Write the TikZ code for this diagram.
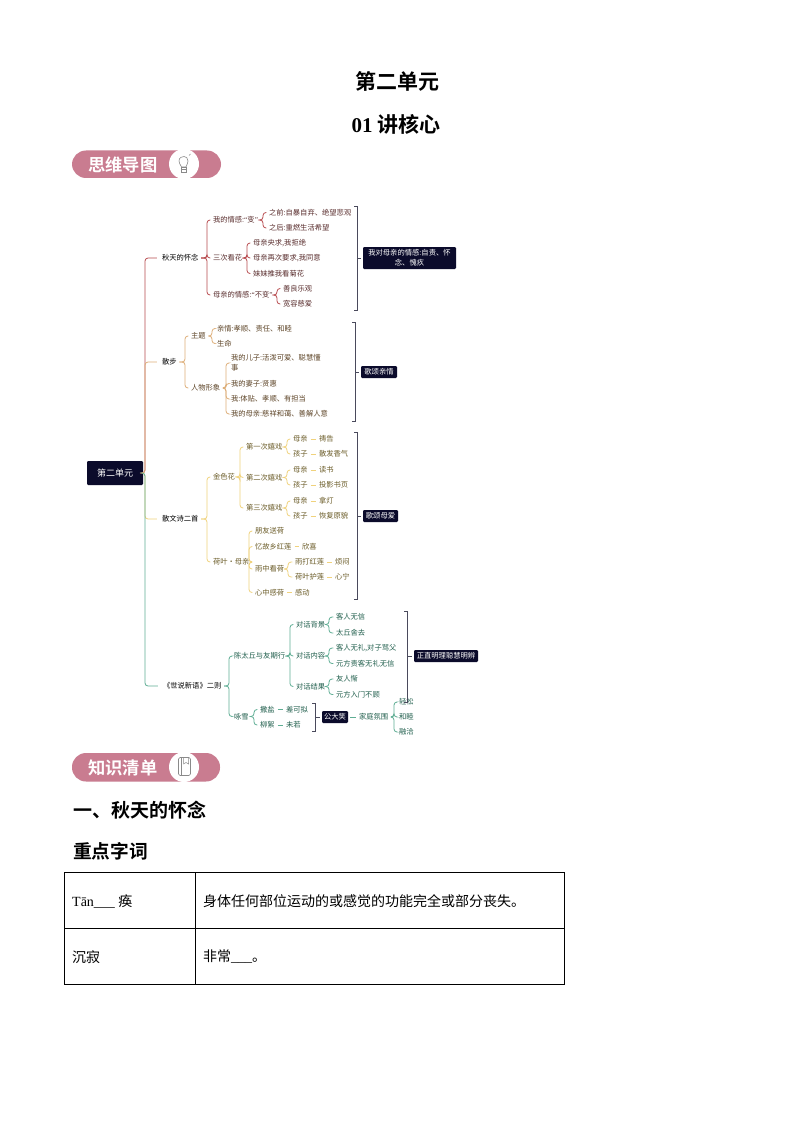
\documentclass[tikz,border=0pt]{standalone}
\usepackage{fontspec}
\setmainfont{Liberation Serif}
\newfontfamily\cjk{Noto Sans CJK SC}
\newfontfamily\cjkb{Noto Sans CJK SC Bold}
\usetikzlibrary{calc}
\definecolor{navy}{HTML}{0B0B2B}
\definecolor{pinkb}{HTML}{C97C90}
\definecolor{lred}{HTML}{B84A4E}
\definecolor{tred}{HTML}{5A2E2E}
\definecolor{lor}{HTML}{DDAE78}
\definecolor{tor}{HTML}{5E4528}
\definecolor{lyel}{HTML}{F0D27C}
\definecolor{tyel}{HTML}{6B5C28}
\definecolor{lgrn}{HTML}{5FAE94}
\definecolor{tgrn}{HTML}{215F4D}
\definecolor{brk}{HTML}{4A4A5C}
\definecolor{icon}{HTML}{8A8A8A}
\newcommand{\qq}[1]{{\rmfamily “}#1{\rmfamily ”}}
\tikzset{
  lab/.style={anchor=west,inner sep=1pt,font=\cjk\fontsize{7.3}{10}\selectfont,align=left},
  conn/.style={line width=.8pt,rounded corners=3pt,shorten >=1.5pt,shorten <=1.5pt},
  spine/.style={line width=.8pt,rounded corners=3pt,shorten >=4pt},
  dashc/.style={line width=.8pt,shorten >=2pt,shorten <=2pt},
  brack/.style={line width=.8pt,color=brk},
  tag/.style={fill=navy,rounded corners=1.2pt,text=white,inner sep=0pt,font=\cjk\fontsize{7.3}{10}\selectfont,align=center},
  pill/.style={fill=pinkb,rounded corners=14pt},
  pilltext/.style={text=white,font=\cjkb\fontsize{17.3}{20}\selectfont,anchor=west,inner sep=0pt},
  head/.style={font=\cjkb\fontsize{19}{22}\selectfont,anchor=west,inner sep=0pt},
  title/.style={font=\cjkb\fontsize{21}{24}\selectfont,inner sep=0pt},
  cell/.style={font=\cjk\fontsize{14}{16}\selectfont,anchor=west,inner sep=0pt},
  rule/.style={line width=.7pt},
}
\newcommand{\lb}[4]{\node[lab] (#1) at ({#2-0.7},#3) {#4};}
\newcommand{\fan}[3]{\coordinate (fx) at (#2,0);
  \foreach \c in {#3} {\draw[conn] (#1.east) -- (fx |- #1.east) |- (\c.west);}}
\newcommand{\rbr}[4]{\coordinate (#1t) at (#2,#3); \coordinate (#1b) at (#2,#4);
  \draw[brack] ($(#1t)+(-3,0)$) -- (#1t) -- (#1b) -- ($(#1b)+(-3,0)$);}
\begin{document}
\begin{tikzpicture}[x=1pt,y=-1pt]
\useasboundingbox (0,0) rectangle (794,1123);
\fill[white] (0,0) rectangle (794,1123);
\node[title] (t1) at (397,81) {第二单元};
\node[title] (t2) at (396,124) {{\rmfamily\bfseries 01} 讲核心};
\fill[pill] (72,150.5) rectangle (221,178);
\fill[white] (184,164) circle[radius=15pt];
\node[pilltext] (b1) at (88,164.5) {思维导图};
\draw[icon,line width=.6pt] (181.5,167) .. controls (180,164) and (179,163) .. (179,161) .. controls (179,157.5) and (182,156.5) .. (184,156.5) .. controls (186,156.5) and (188,158) .. (188,161) .. controls (188,163) and (187,164) .. (186,167) -- cycle;
\draw[icon,line width=.6pt] (181.5,167) rectangle (186,172);
\draw[icon,line width=.5pt] (181.5,169.5) -- (186,169.5);
\draw[icon,line width=.5pt] (189,155.5) -- (190.5,154);
\node[tag,font=\cjk\fontsize{9}{11}\selectfont,minimum width=56pt,minimum height=24pt] (root) at (115,473) {第二单元};
\begin{scope}[every node/.append style={text=black}]
\lb{a}{161.5}{258}{秋天的怀念}
\lb{b}{161.5}{362}{散步}
\lb{c}{161.5}{519}{散文诗二首}
\lb{d}{162.5}{686}{《世说新语》二则}
\end{scope}
\coordinate (sx) at (145,0);
\draw[spine,lyel] (root.east) -- (sx |- root.east) |- (c.west);
\draw[spine,lred] (root.east) -- (sx |- root.east) |- (a.west);
\draw[spine,lor] (root.east) -- (sx |- root.east) |- (b.west);
\draw[spine,lgrn] (root.east) -- (sx |- root.east) |- (d.west);
\begin{scope}[every node/.append style={text=tred}]
\lb{a1}{212.5}{220}{我的情感:\qq{变}}
\lb{a2}{212.5}{258}{三次看花}
\lb{a3}{212.5}{295}{母亲的情感:\qq{不变}}
\lb{a11}{268.5}{212.5}{之前:自暴自弃、绝望悲观}
\lb{a12}{268.5}{228}{之后:重燃生活希望}
\lb{a21}{252.5}{243}{母亲央求,我拒绝}
\lb{a22}{252.5}{258}{母亲再次要求,我同意}
\lb{a23}{252.5}{273.5}{妹妹推我看菊花}
\lb{a31}{282.5}{288.5}{善良乐观}
\lb{a32}{282.5}{304}{宽容慈爱}
\end{scope}
\begin{scope}[color=lred]
\fan{a}{207}{a1,a2,a3}
\fan{a1}{263}{a11,a12}
\fan{a2}{247}{a21,a22,a23}
\fan{a3}{277}{a31,a32}
\end{scope}
\rbr{ra}{357}{206}{310}
\node[tag,minimum width=93pt,minimum height=22pt] (ta) at (409.5,258) {我对母亲的情感:自责、怀\\念、愧疚};
\draw[brack] (rat |- ta.west) -- ($(ta.west)+(-2,0)$);
\begin{scope}[every node/.append style={text=tor}]
\lb{b1}{190.5}{336}{主题}
\lb{b2}{190.5}{388}{人物形象}
\lb{b11}{216.5}{328.5}{亲情:孝顺、责任、和睦}
\lb{b12}{216.5}{343.5}{生命}
\lb{b21}{230.5}{363}{我的儿子:活泼可爱、聪慧懂\\事}
\lb{b22}{230.5}{383.5}{我的妻子:贤惠}
\lb{b23}{230.5}{399}{我:体贴、孝顺、有担当}
\lb{b24}{230.5}{414}{我的母亲:慈祥和蔼、善解人意}
\end{scope}
\begin{scope}[color=lor]
\fan{b}{185}{b1,b2}
\fan{b1}{212}{b11,b12}
\fan{b2}{226}{b21,b22,b23,b24}
\end{scope}
\rbr{rb}{355}{322}{421}
\node[tag,minimum width=36pt,minimum height=12pt] (tb) at (379,372) {歌颂亲情};
\draw[brack] (rbt |- tb.west) -- ($(tb.west)+(-2,0)$);
\begin{scope}[every node/.append style={text=tyel}]
\lb{c1}{212.5}{477}{金色花}
\lb{c2}{212.5}{562}{荷叶·母亲}
\lb{c11}{245.5}{447}{第一次嬉戏}
\lb{c12}{245.5}{477.5}{第二次嬉戏}
\lb{c13}{245.5}{508}{第三次嬉戏}
\lb{m1}{292.5}{439}{母亲}
\lb{m2}{292.5}{454}{孩子}
\lb{m3}{292.5}{470}{母亲}
\lb{m4}{292.5}{485}{孩子}
\lb{m5}{292.5}{501}{母亲}
\lb{m6}{292.5}{516}{孩子}
\lb{n1}{318.5}{439}{祷告}
\lb{n2}{318.5}{454}{散发香气}
\lb{n3}{318.5}{470}{读书}
\lb{n4}{318.5}{485}{投影书页}
\lb{n5}{318.5}{501}{拿灯}
\lb{n6}{318.5}{516}{恢复原貌}
\lb{c21}{254.5}{531}{朋友送荷}
\lb{c22}{254.5}{546.5}{忆故乡红莲}
\lb{c23}{254.5}{569}{雨中看荷}
\lb{c24}{254.5}{592.5}{心中感荷}
\lb{c22x}{301.5}{546.5}{欣喜}
\lb{c24x}{294.5}{592.5}{感动}
\lb{c231}{294.5}{562}{雨打红莲}
\lb{c232}{294.5}{577}{荷叶护莲}
\lb{c231x}{334.5}{562}{烦闷}
\lb{c232x}{334.5}{577}{心宁}
\end{scope}
\begin{scope}[color=lyel]
\fan{c}{207}{c1,c2}
\fan{c1}{240}{c11,c12,c13}
\fan{c11}{287}{m1,m2}
\fan{c12}{287}{m3,m4}
\fan{c13}{287}{m5,m6}
\fan{c2}{249}{c21,c22,c23,c24}
\fan{c23}{288}{c231,c232}
\draw[dashc] (m1) -- (n1);
\draw[dashc] (m2) -- (n2);
\draw[dashc] (m3) -- (n3);
\draw[dashc] (m4) -- (n4);
\draw[dashc] (m5) -- (n5);
\draw[dashc] (m6) -- (n6);
\draw[dashc] (c22) -- (c22x);
\draw[dashc] (c24) -- (c24x);
\draw[dashc] (c231) -- (c231x);
\draw[dashc] (c232) -- (c232x);
\end{scope}
\rbr{rc}{357}{432}{599}
\node[tag,minimum width=35pt,minimum height=12pt] (tc) at (380.5,516) {歌颂母爱};
\draw[brack] (rct |- tc.west) -- ($(tc.west)+(-2,0)$);
\begin{scope}[every node/.append style={text=tgrn}]
\lb{d1}{233.5}{656}{陈太丘与友期行}
\lb{d2}{233.5}{716.5}{咏雪}
\lb{d11}{295.5}{624.5}{对话背景}
\lb{d12}{295.5}{656}{对话内容}
\lb{d13}{295.5}{686.5}{对话结果}
\lb{e1}{335.5}{617}{客人无信}
\lb{e2}{335.5}{633}{太丘舍去}
\lb{e3}{335.5}{648}{客人无礼,对子骂父}
\lb{e4}{335.5}{663.5}{元方责客无礼无信}
\lb{e5}{335.5}{679}{友人惭}
\lb{e6}{335.5}{694.5}{元方入门不顾}
\lb{f1}{259.5}{709.5}{撒盐}
\lb{f2}{259.5}{725}{柳絮}
\lb{f1x}{285.5}{709.5}{差可拟}
\lb{f2x}{285.5}{725}{未若}
\lb{g}{358.5}{717}{家庭氛围}
\lb{g1}{398.5}{702}{轻松}
\lb{g2}{398.5}{717}{和睦}
\lb{g3}{398.5}{732}{融洽}
\end{scope}
\begin{scope}[color=lgrn]
\fan{d}{229}{d1,d2}
\fan{d1}{290}{d11,d12,d13}
\fan{d11}{329}{e1,e2}
\fan{d12}{329}{e3,e4}
\fan{d13}{329}{e5,e6}
\fan{d2}{254}{f1,f2}
\fan{g}{394}{g1,g2,g3}
\draw[dashc] (f1) -- (f1x);
\draw[dashc] (f2) -- (f2x);
\end{scope}
\rbr{rd}{407}{611}{702}
\node[tag,minimum width=64pt,minimum height=12pt] (td) at (446,656) {正直明理聪慧明辨};
\draw[brack] (rdt |- td.west) -- ($(td.west)+(-2,0)$);
\rbr{re}{315}{703}{731}
\node[tag,minimum width=26pt,minimum height=12pt] (te) at (335,717) {公大笑};
\draw[brack] (ret |- te.west) -- ($(te.west)+(-2,0)$);
\draw[dashc,lgrn] (te.east) -- (g.west);
\fill[pill] (72,753) rectangle (220,781.5);
\fill[white] (184,767) circle[radius=15pt];
\node[pilltext] (b2) at (88,767.5) {知识清单};
\draw[icon,line width=.6pt,rounded corners=1.5pt] (178.5,757.5) rectangle (190.5,775.5);
\draw[icon,line width=.5pt] (181,757.5) -- (181,775.5);
\draw[icon,line width=.5pt] (183.5,757.5) -- (183.5,764) -- (186,762.5) -- (188.5,764) -- (188.5,757.5);
\node[head] (h1) at (73,810) {一、秋天的怀念};
\node[head,font=\cjkb\fontsize{18.7}{22}\selectfont] (h2) at (73,851) {重点字词};
\draw[rule] (64.5,872.5) rectangle (564,984);
\draw[rule] (64.5,928) -- (564,928);
\draw[rule] (195.5,872.5) -- (195.5,984);
\node[cell] (c11t) at (72,901) {\rmfamily Tān\_\_\_\hspace{3.5pt}\cjk 痪};
\node[cell] (c12t) at (203,901) {身体任何部位运动的或感觉的功能完全或部分丧失。};
\node[cell] (c21t) at (72,957) {沉寂};
\node[cell] (c22t) at (203,957) {非常\rmfamily\_\_\_\cjk 。};
\end{tikzpicture}
\end{document}
